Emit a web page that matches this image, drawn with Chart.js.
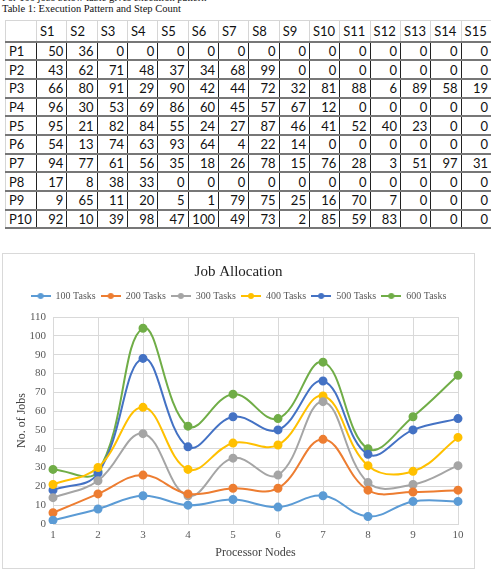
<!DOCTYPE html>
<html>
<head>
    <title>Job Allocation</title>
    <script src="https://cdn.jsdelivr.net/npm/chart.js"></script>
    <style>
        body {
            margin: 0;
            background-color: #ffffff;
            width: 491px;
            height: 572px;
            overflow: hidden;
            position: relative;
        }
        .caption {
            position: absolute;
            left: 2px;
            font-family: "Liberation Serif", serif;
            font-size: 10.5px;
            color: #111;
            white-space: nowrap;
        }
        #table-wrap {
            position: absolute;
            left: 5px;
            top: 20px;
        }
        table {
            border-collapse: collapse;
            table-layout: fixed;
            width: 487px;
            font-family: Lato, "Liberation Sans", sans-serif;
            font-size: 13px;
            color: #111;
        }
        tr { height: 18.7px; }
        tr.head { height: 21px; }
        td {
            padding: 0 3px 0 2px;
            text-align: right;
            border-left: 1px solid #222;
            border-right: 1px solid #222;
            border-bottom: 2px solid #777;
            overflow: hidden;
        }
        tr.head td {
            text-align: left;
            border: 1px solid #d6d6d6;
            border-bottom: 2px solid #777;
            padding-left: 3px;
        }
        td.row {
            text-align: left;
            border-left: 1px solid #d6d6d6;
            border-top: 1px solid #d6d6d6;
            padding-left: 3px;
        }
        #chart-container {
            position: absolute;
            left: 2px;
            top: 253px;
            width: 471px;
            height: 314px;
            border: 1px solid #d9d9d9;
        }
    </style>
</head>
<body>

<div class="caption" style="top: -8px;">For 100 jobs below table gives execution pattern</div>
<div class="caption" style="top: 3px;">Table 1: Execution Pattern and Step Count</div>

<div id="table-wrap">
    <table id="stepTable"></table>
</div>

<div id="chart-container">
    <canvas id="jobChart"></canvas>
</div>

<script>
// table values (steps per processor)
const steps = ['S1', 'S2', 'S3', 'S4', 'S5', 'S6', 'S7', 'S8', 'S9', 'S10', 'S11', 'S12', 'S13', 'S14', 'S15'];
const procs = ['P1', 'P2', 'P3', 'P4', 'P5', 'P6', 'P7', 'P8', 'P9', 'P10'];
const p1 = [50, 36, 0, 0, 0, 0, 0, 0, 0, 0, 0, 0, 0, 0, 0];
const p2 = [43, 62, 71, 48, 37, 34, 68, 99, 0, 0, 0, 0, 0, 0, 0];
const p3 = [66, 80, 91, 29, 90, 42, 44, 72, 32, 81, 88, 6, 89, 58, 19];
const p4 = [96, 30, 53, 69, 86, 60, 45, 57, 67, 12, 0, 0, 0, 0, 0];
const p5 = [95, 21, 82, 84, 55, 24, 27, 87, 46, 41, 52, 40, 23, 0, 0];
const p6 = [54, 13, 74, 63, 93, 64, 4, 22, 14, 0, 0, 0, 0, 0, 0];
const p7 = [94, 77, 61, 56, 35, 18, 26, 78, 15, 76, 28, 3, 51, 97, 31];
const p8 = [17, 8, 38, 33, 0, 0, 0, 0, 0, 0, 0, 0, 0, 0, 0];
const p9 = [9, 65, 11, 20, 5, 1, 79, 75, 25, 16, 70, 7, 0, 0, 0];
const p10 = [92, 10, 39, 98, 47, 100, 49, 73, 2, 85, 59, 83, 0, 0, 0];

// chart values
const nodes = ['1', '2', '3', '4', '5', '6', '7', '8', '9', '10'];
const seriesNames = ['100 Tasks', '200 Tasks', '300 Tasks', '400 Tasks', '500 Tasks', '600 Tasks'];
const tasks100 = [2, 8, 15, 10, 13, 9, 15, 4, 12, 12];
const tasks200 = [6, 16, 26, 16, 19, 19, 45, 18, 17, 18];
const tasks300 = [14, 23, 48, 15, 35, 26, 65, 22, 21, 31];
const tasks400 = [21, 30, 62, 29, 43, 42, 68, 31, 28, 46];
const tasks500 = [18, 27, 88, 41, 57, 50, 76, 37, 50, 56];
const tasks600 = [29, 28, 104, 52, 69, 56, 86, 40, 57, 79];

const colors = ['#5B9BD5', '#ED7D31', '#A5A5A5', '#FFC000', '#4472C4', '#70AD47'];

// build the table
const rows = [p1, p2, p3, p4, p5, p6, p7, p8, p9, p10];
const table = document.getElementById('stepTable');
let html = '<colgroup><col style="width:31px">' + steps.map(() => '<col>').join('') + '</colgroup>';
html += '<tr class="head"><td class="row"></td>' + steps.map(s => '<td>' + s + '</td>').join('') + '</tr>';
rows.forEach((r, i) => {
    html += '<tr><td class="row">' + procs[i] + '</td>' + r.map(v => '<td>' + v + '</td>').join('') + '</tr>';
});
table.innerHTML = html;

// legend icons: line with a dot
function legendIcon(color) {
    const c = document.createElement('canvas');
    c.width = 20;
    c.height = 8;
    const g = c.getContext('2d');
    g.strokeStyle = color;
    g.lineWidth = 2;
    g.beginPath();
    g.moveTo(0, 4);
    g.lineTo(20, 4);
    g.stroke();
    g.fillStyle = color;
    g.beginPath();
    g.arc(10, 4, 3, 0, Math.PI * 2);
    g.fill();
    return c;
}
const icons = colors.map(legendIcon);

const allSeries = [tasks100, tasks200, tasks300, tasks400, tasks500, tasks600];
const datasets = allSeries.map((d, i) => ({
    label: seriesNames[i],
    data: d,
    borderColor: colors[i],
    backgroundColor: colors[i],
    borderWidth: 2,
    pointRadius: 3.5,
    pointStyle: 'circle',
    tension: 0.4
}));

const serif = '"Liberation Serif", "Times New Roman", serif';

// extra gap under the legend
const legendGap = {
    id: 'legendGap',
    beforeInit(chart) {
        const fit = chart.legend.fit;
        chart.legend.fit = function () {
            fit.bind(chart.legend)();
            this.height += 6;
        };
    }
};

new Chart(document.getElementById('jobChart'), {
    type: 'line',
    data: { labels: nodes, datasets: datasets },
    plugins: [legendGap],
    options: {
        responsive: true,
        maintainAspectRatio: false,
        animation: false,
        layout: { padding: 0 },
        plugins: {
            title: {
                display: true,
                text: 'Job Allocation',
                color: '#222',
                font: { family: serif, size: 15, weight: 'normal' },
                padding: { top: 9, bottom: 5 }
            },
            legend: {
                labels: {
                    usePointStyle: true,
                    pointStyleWidth: 20,
                    boxHeight: 8,
                    padding: 5,
                    color: '#595959',
                    font: { family: serif, size: 10 },
                    generateLabels: function (chart) {
                        const items = Chart.defaults.plugins.legend.labels.generateLabels(chart);
                        items.forEach((it, i) => { it.pointStyle = icons[i]; });
                        return items;
                    }
                }
            },
            tooltip: { enabled: false }
        },
        scales: {
            x: {
                offset: false,
                grid: { color: '#d9d9d9', drawTicks: false },
                border: { color: '#d9d9d9' },
                ticks: { color: '#595959', padding: 5, font: { family: serif, size: 11 } },
                title: {
                    display: true,
                    text: 'Processor Nodes',
                    color: '#404040',
                    font: { family: serif, size: 12 },
                    padding: { top: 0, bottom: 8 }
                },
                afterFit: function (scale) { scale.height = 44; }
            },
            y: {
                min: 0,
                max: 110,
                grid: { color: '#d9d9d9', drawTicks: false },
                border: { color: '#d9d9d9' },
                ticks: { stepSize: 10, color: '#595959', padding: 7, font: { family: serif, size: 11 } },
                title: {
                    display: true,
                    text: 'No. of Jobs',
                    color: '#404040',
                    font: { family: serif, size: 12 },
                    padding: { top: 12, bottom: 0 }
                },
                afterFit: function (scale) { scale.width = 50; }
            },
            // empty right-hand strip so the plot stops short of the frame
            yRight: {
                position: 'right',
                grid: { display: false },
                border: { display: false },
                ticks: { display: false },
                afterFit: function (scale) { scale.width = 16; }
            }
        }
    }
});
</script>

</body>
</html>
